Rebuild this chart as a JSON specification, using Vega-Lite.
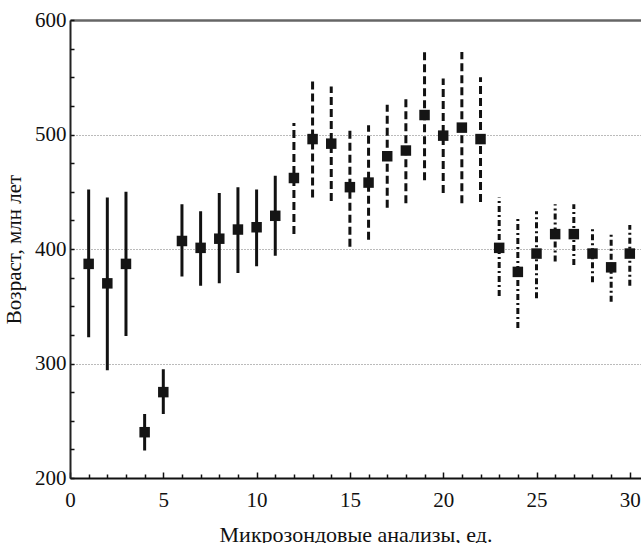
{
  "$schema": "https://vega.github.io/schema/vega-lite/v6.json",
  "autosize": "none",
  "width": 571,
  "height": 458,
  "padding": {"left": 70, "top": 20, "right": 0, "bottom": 65},
  "background": "white",
  "config": {
    "view": {"stroke": null},
    "font": "Liberation Serif",
    "axis": {"labelFont": "Liberation Serif", "titleFont": "Liberation Serif", "labelColor": "#111", "titleColor": "#111", "titleFontWeight": "normal", "labelFontSize": 21, "titleFontSize": 21}
  },
  "data": {"values": [
    {"n": 1, "age": 387, "lo": 323, "hi": 452, "g": "a"},
    {"n": 2, "age": 370, "lo": 294, "hi": 445, "g": "a"},
    {"n": 3, "age": 387, "lo": 324, "hi": 450, "g": "a"},
    {"n": 4, "age": 240, "lo": 224, "hi": 256, "g": "a"},
    {"n": 5, "age": 275, "lo": 256, "hi": 295, "g": "a"},
    {"n": 6, "age": 407, "lo": 376, "hi": 439, "g": "a"},
    {"n": 7, "age": 401, "lo": 368, "hi": 433, "g": "a"},
    {"n": 8, "age": 409, "lo": 370, "hi": 449, "g": "a"},
    {"n": 9, "age": 417, "lo": 379, "hi": 454, "g": "a"},
    {"n": 10, "age": 419, "lo": 385, "hi": 452, "g": "a"},
    {"n": 11, "age": 429, "lo": 394, "hi": 464, "g": "a"},
    {"n": 12, "age": 462, "lo": 413, "hi": 510, "g": "b"},
    {"n": 13, "age": 496, "lo": 445, "hi": 549, "g": "b"},
    {"n": 14, "age": 492, "lo": 442, "hi": 542, "g": "b"},
    {"n": 15, "age": 454, "lo": 402, "hi": 505, "g": "b"},
    {"n": 16, "age": 458, "lo": 408, "hi": 508, "g": "b"},
    {"n": 17, "age": 481, "lo": 436, "hi": 526, "g": "b"},
    {"n": 18, "age": 486, "lo": 440, "hi": 534, "g": "b"},
    {"n": 19, "age": 517, "lo": 460, "hi": 574, "g": "b"},
    {"n": 20, "age": 499, "lo": 449, "hi": 549, "g": "b"},
    {"n": 21, "age": 506, "lo": 440, "hi": 572, "g": "b"},
    {"n": 22, "age": 496, "lo": 441, "hi": 550, "g": "b"},
    {"n": 23, "age": 401, "lo": 359, "hi": 445, "g": "c"},
    {"n": 24, "age": 380, "lo": 331, "hi": 428, "g": "c"},
    {"n": 25, "age": 396, "lo": 357, "hi": 433, "g": "c"},
    {"n": 26, "age": 413, "lo": 389, "hi": 439, "g": "c"},
    {"n": 27, "age": 413, "lo": 386, "hi": 439, "g": "c"},
    {"n": 28, "age": 396, "lo": 371, "hi": 418, "g": "c"},
    {"n": 29, "age": 384, "lo": 354, "hi": 415, "g": "c"},
    {"n": 30, "age": 396, "lo": 368, "hi": 421, "g": "c"}
  ]},
  "resolve": {"axis": {"x": "independent", "y": "independent"}},
  "layer": [
    {
      "mark": {"type": "rule", "strokeWidth": 3, "color": "#111"},
      "encoding": {
        "x": {"field": "n", "type": "quantitative",
          "scale": {"domain": [0, 30.6], "nice": false, "zero": false},
          "axis": {"orient": "bottom", "title": "Микрозондовые анализы, ед.", "titleY": 46, "titleFontSize": 22,
            "labelFont": "Liberation Serif", "labelFontSize": 21,
            "labelBaseline": "line-top", "labelLineHeight": 40,
            "values": [0, 5, 10, 15, 20, 25, 30],
            "tickSize": -6,
            "tickColor": "#111", "tickWidth": 1.5, "domainColor": "#111", "domainWidth": 2,
            "labelPadding": 8, "grid": false, "labelFlush": false}},
        "y": {"field": "lo", "type": "quantitative",
          "scale": {"domain": [200, 600], "nice": false, "zero": false},
          "axis": {"orient": "left", "title": "Возраст, млн лет", "titleX": -46,
            "labelFont": "Liberation Serif", "labelFontSize": 21,
            "values": [200, 300, 400, 500, 600],
            "tickSize": -4, "tickColor": "#111", "tickWidth": 1.5, "domainColor": "#222", "domainWidth": 2,
            "labelPadding": 8,
            "grid": true, "gridDash": [1, 2], "gridColor": "#777"}},
        "y2": {"field": "hi"},
        "strokeDash": {"field": "g", "type": "nominal", "legend": null,
          "scale": {"domain": ["a", "b", "c"], "range": [[1, 0], [8, 4], [6, 3, 2, 3]]}}
      }
    },
    {
      "mark": {"type": "point", "shape": "square", "filled": true, "size": 110, "color": "#151515", "opacity": 1},
      "encoding": {
        "x": {"field": "n", "type": "quantitative",
          "axis": {"orient": "top", "title": null, "labels": false, "ticks": false, "grid": false, "domainColor": "#666", "domainWidth": 2.5}},
        "y": {"field": "age", "type": "quantitative",
          "axis": {"orient": "left", "title": null, "labels": false, "grid": false, "domain": false,
            "values": [225, 250, 275, 325, 350, 375, 425, 450, 475, 525, 550, 575],
            "tickSize": -4, "tickColor": "#111", "tickWidth": 1.5}}
      }
    },
    {
      "mark": {"type": "point", "opacity": 0},
      "encoding": {
        "x": {"field": "n", "type": "quantitative",
          "axis": {"orient": "bottom", "title": null, "labels": false, "grid": false, "domain": false,
            "values": [1,2,3,4,6,7,8,9,11,12,13,14,16,17,18,19,21,22,23,24,26,27,28,29],
            "tickSize": -4, "tickColor": "#111", "tickWidth": 1.5}},
        "y": {"field": "age", "type": "quantitative", "axis": null}
      }
    }
  ]
}
